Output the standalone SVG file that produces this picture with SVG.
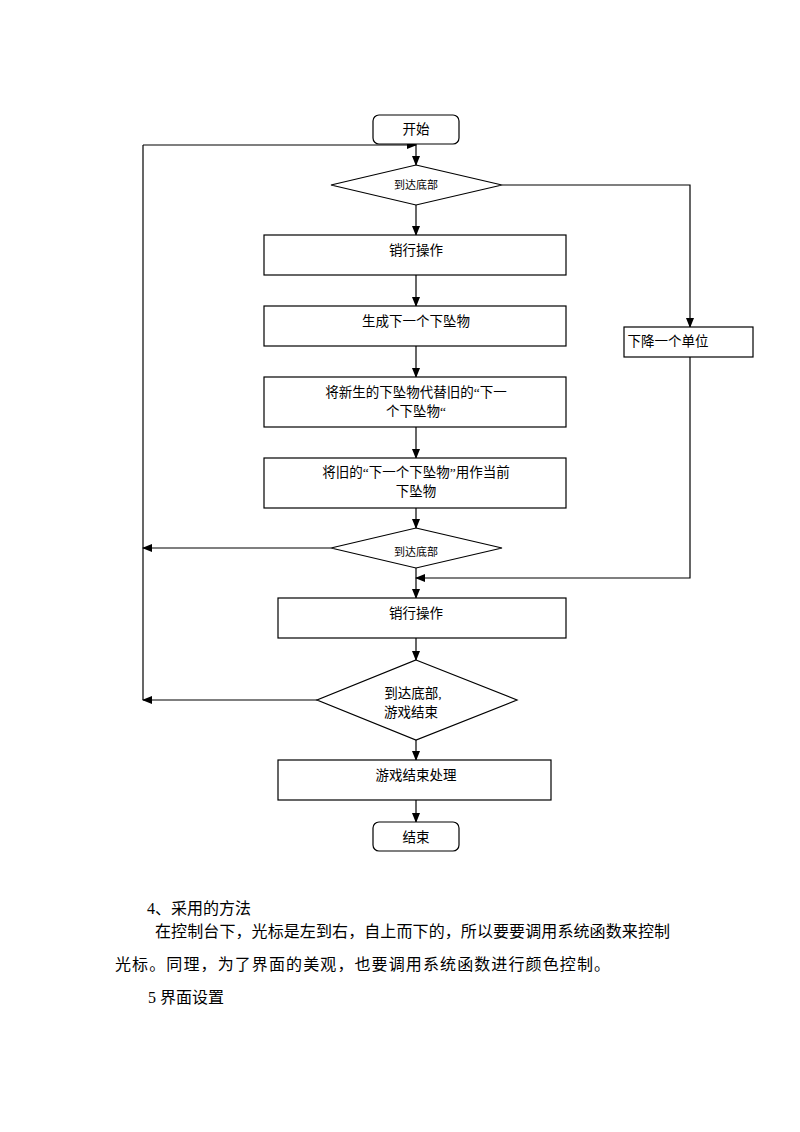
<svg xmlns="http://www.w3.org/2000/svg" width="800" height="1132" viewBox="0 0 800 1132">
<defs>
<marker id="ah" markerWidth="10" markerHeight="8" refX="9" refY="4" orient="auto" markerUnits="userSpaceOnUse">
<path d="M0,0 L10,4 L0,8 Z" fill="#000"/>
</marker>
<style>
.n{fill:#fff;stroke:#000;stroke-width:1.2}
.c{fill:none;stroke:#000;stroke-width:1.2}
.t{font-family:"Liberation Serif","Noto Sans CJK SC",serif;font-size:13.5px;fill:#000;text-anchor:middle}
.s{font-family:"Liberation Serif","Noto Sans CJK SC",serif;font-size:11px;fill:#000;text-anchor:middle}
.p{font-family:"Liberation Serif","Noto Sans CJK SC",serif;font-size:16px;fill:#000}
</style>
</defs>
<rect width="800" height="1132" fill="#fff"/>
<g id="connectors">
<path class="c" d="M143,145 L416,145" marker-end="url(#ah)"/>
<path class="c" d="M416,144 L416,165" marker-end="url(#ah)"/>
<path class="c" d="M502,185 L690,185 L690,327" marker-end="url(#ah)"/>
<path class="c" d="M690,357 L690,578 L416,578" marker-end="url(#ah)"/>
<path class="c" d="M416,205 L416,235" marker-end="url(#ah)"/>
<path class="c" d="M416,275 L416,306" marker-end="url(#ah)"/>
<path class="c" d="M416,346 L416,377" marker-end="url(#ah)"/>
<path class="c" d="M416,427 L416,458" marker-end="url(#ah)"/>
<path class="c" d="M416,508 L416,528" marker-end="url(#ah)"/>
<path class="c" d="M331,548 L143,548" marker-end="url(#ah)"/>
<path class="c" d="M416,568 L416,598" marker-end="url(#ah)"/>
<path class="c" d="M416,638 L416,660" marker-end="url(#ah)"/>
<path class="c" d="M317,700 L143,700" marker-end="url(#ah)"/>
<path class="c" d="M143,700 L143,145"/>
<path class="c" d="M416,740 L416,760" marker-end="url(#ah)"/>
<path class="c" d="M416,800 L416,822" marker-end="url(#ah)"/>
</g>
<g id="start">
<rect class="n" x="373" y="115" width="86" height="29" rx="6"/>
<text class="t" x="416" y="134">开始</text>
</g>
<g id="d1">
<polygon class="n" points="416,165 502,185 416,205 331,185"/>
<text class="s" x="416" y="189">到达底部</text>
</g>
<g id="down">
<rect class="n" x="624" y="327" width="129" height="30"/>
<text class="t" x="668" y="346">下降一个单位</text>
</g>
<g id="b1">
<rect class="n" x="264" y="235" width="302" height="40"/>
<text class="t" x="416" y="255">销行操作</text>
</g>
<g id="b2">
<rect class="n" x="264" y="306" width="302" height="40"/>
<text class="t" x="416" y="326">生成下一个下坠物</text>
</g>
<g id="b3">
<rect class="n" x="264" y="377" width="302" height="50"/>
<text class="t" x="416" y="397">将新生的下坠物代替旧的“下一</text>
<text class="t" x="416" y="416">个下坠物“</text>
</g>
<g id="b4">
<rect class="n" x="264" y="458" width="302" height="50"/>
<text class="t" x="416" y="477">将旧的“下一个下坠物”用作当前</text>
<text class="t" x="416" y="496">下坠物</text>
</g>
<g id="d2">
<polygon class="n" points="416,528 502,548 416,568 331,548"/>
<text class="s" x="416" y="556">到达底部</text>
</g>
<g id="b5">
<rect class="n" x="278" y="598" width="288" height="40"/>
<text class="t" x="416" y="618">销行操作</text>
</g>
<g id="d3">
<polygon class="n" points="416,660 517,700 416,740 317,700"/>
<text class="t" x="413" y="698">到达底部,</text>
<text class="t" x="411" y="717">游戏结束</text>
</g>
<g id="b6">
<rect class="n" x="278" y="760" width="273" height="40"/>
<text class="t" x="416" y="780">游戏结束处理</text>
</g>
<g id="end">
<rect class="n" x="373" y="822" width="86" height="29" rx="6"/>
<text class="t" x="416" y="842">结束</text>
</g>
<g id="body">
<text class="p" x="147" y="914">4、采用的方法</text>
<text class="p" x="155" y="937" textLength="515" lengthAdjust="spacing">在控制台下，光标是左到右，自上而下的，所以要要调用系统函数来控制</text>
<text class="p" x="115" y="970" textLength="495" lengthAdjust="spacing">光标。同理，为了界面的美观，也要调用系统函数进行颜色控制。</text>
<text class="p" x="148" y="1003">5 界面设置</text>
</g>
</svg>
